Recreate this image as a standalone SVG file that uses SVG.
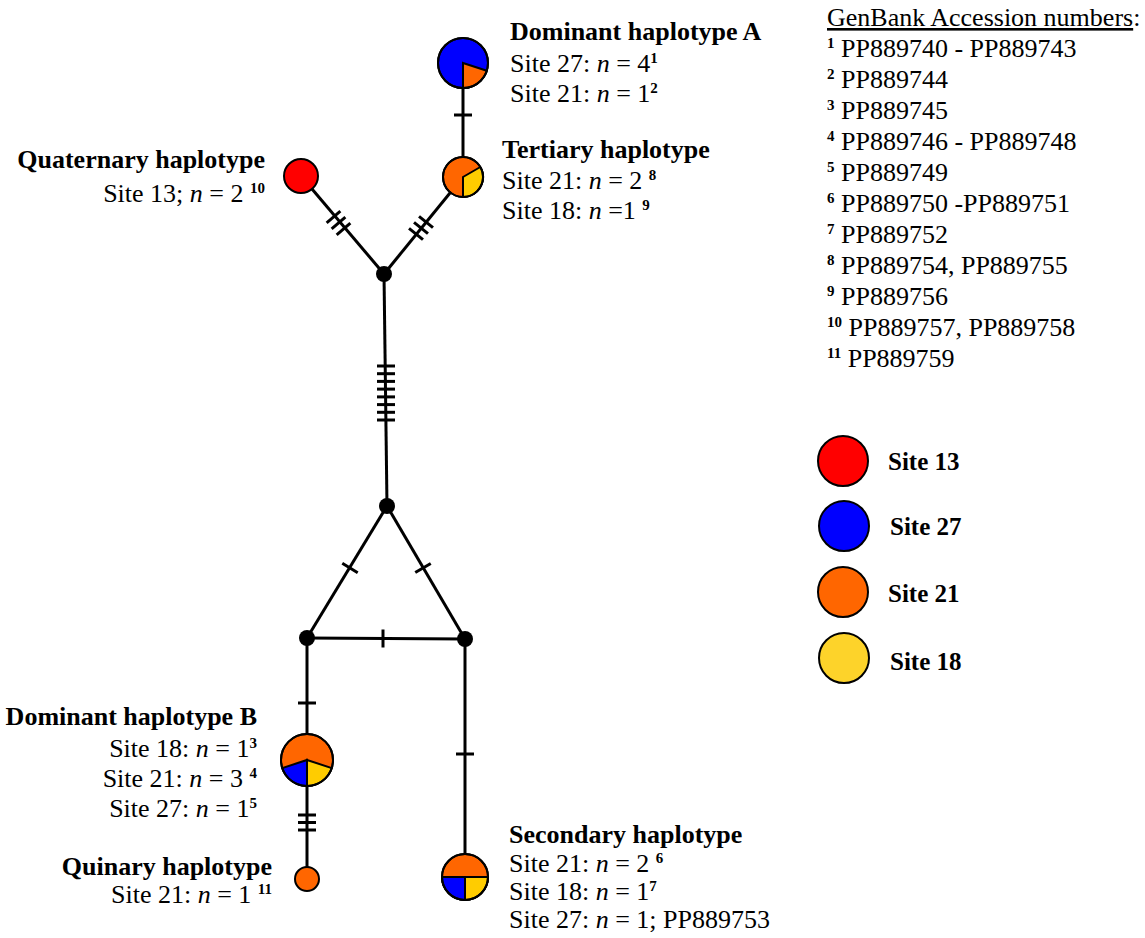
<svg xmlns="http://www.w3.org/2000/svg" width="1145" height="938" viewBox="0 0 1145 938">
<style>
text{font-family:"Liberation Serif","Times New Roman",serif;font-size:26px;fill:#000}
.b{font-weight:bold}
.i{font-style:italic}
.sup{font-size:15px;font-weight:bold}
.leg{font-size:25px}
.edge{stroke:#000;stroke-width:3;fill:none}
.pie{stroke:#000;stroke-width:2}
.node{fill:#000}
</style>
<defs>
<path id="tick" d="M-9,0 H9" stroke="#000" stroke-width="3"/>
</defs>
<rect width="1145" height="938" fill="#fff"/>
<g id="connectors">
<line class="edge" x1="463" y1="63" x2="463" y2="177"/>
<line class="edge" x1="301" y1="176" x2="384" y2="274"/>
<line class="edge" x1="463" y1="177" x2="384" y2="274"/>
<line class="edge" x1="384" y1="274" x2="387" y2="506"/>
<line class="edge" x1="387" y1="506" x2="307" y2="638"/>
<line class="edge" x1="387" y1="506" x2="465" y2="639"/>
<line class="edge" x1="307" y1="638" x2="465" y2="639"/>
<line class="edge" x1="307" y1="638" x2="307" y2="879"/>
<line class="edge" x1="465" y1="639" x2="465" y2="877"/>
<use href="#tick" x="463" y="115"/>
<use href="#tick" transform="translate(333.5,217) rotate(-40.3)"/>
<use href="#tick" transform="translate(338.5,223) rotate(-40.3)"/>
<use href="#tick" transform="translate(343.5,229) rotate(-40.3)"/>
<use href="#tick" transform="translate(426,222) rotate(39.2)"/>
<use href="#tick" transform="translate(421,228) rotate(39.2)"/>
<use href="#tick" transform="translate(416,234) rotate(39.2)"/>
<use href="#tick" x="386" y="366"/>
<use href="#tick" x="386" y="373.7"/>
<use href="#tick" x="386" y="381.4"/>
<use href="#tick" x="386" y="389.1"/>
<use href="#tick" x="386" y="396.9"/>
<use href="#tick" x="386" y="404.6"/>
<use href="#tick" x="386" y="412.3"/>
<use href="#tick" x="386" y="420"/>
<use href="#tick" transform="translate(350,568) rotate(31.2)"/>
<use href="#tick" transform="translate(423,568) rotate(-30.4)"/>
<use href="#tick" transform="translate(383,638.5) rotate(90)"/>
<use href="#tick" x="307" y="703"/>
<use href="#tick" x="307" y="815"/>
<use href="#tick" x="307" y="822.5"/>
<use href="#tick" x="307" y="830"/>
<use href="#tick" x="465" y="754"/>
</g>
<g id="node-junction-top"><circle class="node" cx="384" cy="274" r="8"/></g>
<g id="node-junction-mid"><circle class="node" cx="387" cy="506" r="8"/></g>
<g id="node-junction-left"><circle class="node" cx="307" cy="638" r="8"/></g>
<g id="node-junction-right"><circle class="node" cx="465" cy="639" r="8"/></g>
<g id="node-dominant-a">
<circle class="pie" cx="463" cy="63" r="25" fill="#0000ff"/>
<path class="pie" d="M463,63 L486.78,70.73 A25,25 0 0 1 463,88 Z" fill="#ff6600" stroke-width="1.5"/>
<circle cx="463" cy="63" r="25" fill="none" stroke="#000" stroke-width="2"/>
<text class="b" x="510" y="40">Dominant haplotype A</text>
<text x="510" y="72">Site 27: <tspan class="i">n</tspan> = 4<tspan class="sup" dy="-9">1</tspan></text>
<text x="510" y="102">Site 21: <tspan class="i">n</tspan> = 1<tspan class="sup" dy="-9">2</tspan></text>
</g>
<g id="node-tertiary">
<circle class="pie" cx="463" cy="177" r="20" fill="#ff6600"/>
<path class="pie" d="M463,177 L480.32,167 A20,20 0 0 1 463,197 Z" fill="#ffcc00" stroke-width="1.5"/>
<circle cx="463" cy="177" r="20" fill="none" stroke="#000" stroke-width="2"/>
<text class="b" x="502" y="158">Tertiary haplotype</text>
<text x="502" y="189">Site 21: <tspan class="i">n</tspan> = 2 <tspan class="sup" dy="-9">8</tspan></text>
<text x="502" y="219">Site 18: <tspan class="i">n</tspan> =1 <tspan class="sup" dy="-9">9</tspan></text>
</g>
<g id="node-quaternary">
<circle class="pie" cx="301" cy="176" r="17" fill="#ff0000"/>
<text class="b" x="265" y="168" text-anchor="end">Quaternary haplotype</text>
<text x="265" y="202" text-anchor="end">Site 13; <tspan class="i">n</tspan> = 2 <tspan class="sup" dy="-9">10</tspan></text>
</g>
<g id="node-dominant-b">
<circle class="pie" cx="307" cy="760" r="26" fill="#ff6600"/>
<path class="pie" d="M307,760 L331.73,768.03 A26,26 0 0 1 307,786 Z" fill="#ffcc00" stroke-width="1.5"/>
<path class="pie" d="M307,760 L307,786 A26,26 0 0 1 282.27,768.03 Z" fill="#0000ff" stroke-width="1.5"/>
<circle cx="307" cy="760" r="26" fill="none" stroke="#000" stroke-width="2"/>
<text class="b" x="257" y="725" text-anchor="end">Dominant haplotype B</text>
<text x="257" y="757" text-anchor="end">Site 18: <tspan class="i">n</tspan> = 1<tspan class="sup" dy="-9">3</tspan></text>
<text x="257" y="787" text-anchor="end">Site 21: <tspan class="i">n</tspan> = 3 <tspan class="sup" dy="-9">4</tspan></text>
<text x="257" y="817" text-anchor="end">Site 27: <tspan class="i">n</tspan> = 1<tspan class="sup" dy="-9">5</tspan></text>
</g>
<g id="node-quinary">
<circle class="pie" cx="307" cy="879" r="12" fill="#ff6600"/>
<text class="b" x="272" y="875" text-anchor="end">Quinary haplotype</text>
<text x="272" y="903" text-anchor="end">Site 21: <tspan class="i">n</tspan> = 1 <tspan class="sup" dy="-9">11</tspan></text>
</g>
<g id="node-secondary">
<circle class="pie" cx="465" cy="877" r="23" fill="#ff6600"/>
<path class="pie" d="M465,877 L488,877 A23,23 0 0 1 465,900 Z" fill="#ffcc00" stroke-width="1.5"/>
<path class="pie" d="M465,877 L465,900 A23,23 0 0 1 442,877 Z" fill="#0000ff" stroke-width="1.5"/>
<circle cx="465" cy="877" r="23" fill="none" stroke="#000" stroke-width="2"/>
<text class="b" x="509" y="843">Secondary haplotype</text>
<text x="509" y="872">Site 21: <tspan class="i">n</tspan> = 2 <tspan class="sup" dy="-9">6</tspan></text>
<text x="509" y="900">Site 18: <tspan class="i">n</tspan> = 1<tspan class="sup" dy="-9">7</tspan></text>
<text x="509" y="928">Site 27: <tspan class="i">n</tspan> = 1; PP889753</text>
</g>
<g id="accessions">
<text x="827" y="26"><tspan text-decoration="underline">GenBank Accession numbers</tspan>:</text>
<text x="827" y="57"><tspan class="sup" dy="-9">1</tspan><tspan dy="9"> PP889740 - PP889743</tspan></text>
<text x="827" y="88"><tspan class="sup" dy="-9">2</tspan><tspan dy="9"> PP889744</tspan></text>
<text x="827" y="119"><tspan class="sup" dy="-9">3</tspan><tspan dy="9"> PP889745</tspan></text>
<text x="827" y="150"><tspan class="sup" dy="-9">4</tspan><tspan dy="9"> PP889746 - PP889748</tspan></text>
<text x="827" y="181"><tspan class="sup" dy="-9">5</tspan><tspan dy="9"> PP889749</tspan></text>
<text x="827" y="212"><tspan class="sup" dy="-9">6</tspan><tspan dy="9"> PP889750 -PP889751</tspan></text>
<text x="827" y="243"><tspan class="sup" dy="-9">7</tspan><tspan dy="9"> PP889752</tspan></text>
<text x="827" y="274"><tspan class="sup" dy="-9">8</tspan><tspan dy="9"> PP889754, PP889755</tspan></text>
<text x="827" y="305"><tspan class="sup" dy="-9">9</tspan><tspan dy="9"> PP889756</tspan></text>
<text x="827" y="336"><tspan class="sup" dy="-9">10</tspan><tspan dy="9"> PP889757, PP889758</tspan></text>
<text x="827" y="367"><tspan class="sup" dy="-9">11</tspan><tspan dy="9"> PP889759</tspan></text>
</g>
<g id="legend">
<circle class="pie" cx="843" cy="461" r="25" fill="#ff0000"/>
<text class="b leg" x="888" y="470">Site 13</text>
<circle class="pie" cx="844" cy="526" r="25" fill="#0000ff"/>
<text class="b leg" x="890" y="535">Site 27</text>
<circle class="pie" cx="843" cy="592" r="25" fill="#ff6600"/>
<text class="b leg" x="888" y="602">Site 21</text>
<circle class="pie" cx="844" cy="658" r="25" fill="#fdd32a"/>
<text class="b leg" x="890" y="670">Site 18</text>
</g>
</svg>
